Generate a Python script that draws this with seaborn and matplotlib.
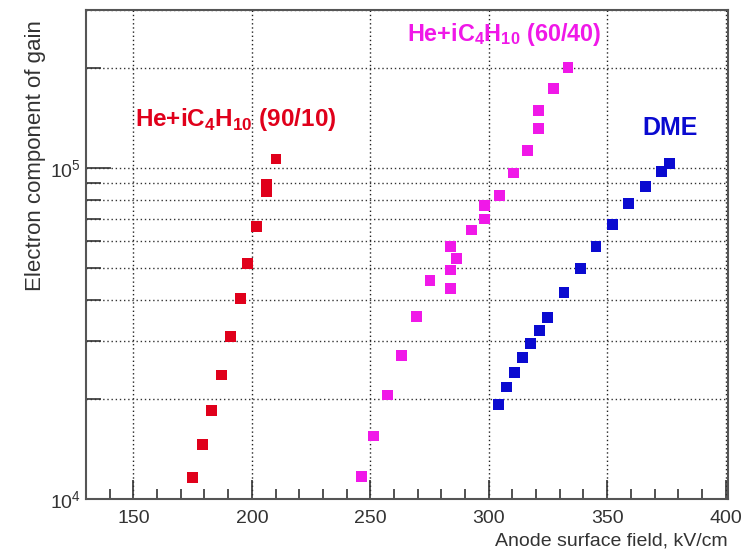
import numpy as np
import pandas as pd
import matplotlib
matplotlib.use("Agg")
import matplotlib.pyplot as plt
import seaborn as sns
from matplotlib.ticker import LogLocator, MultipleLocator, NullFormatter

# ---- data ----
red_x = [175.0, 179.2, 183.1, 187.2, 191.1, 195.2, 198.2, 202.1, 206.2, 206.2, 210.2]
red_y = [1.163e4, 1.46e4, 1.85e4, 2.37e4, 3.09e4, 4.03e4, 5.14e4, 6.64e4, 8.48e4, 8.90e4, 1.065e5]

mag_x = [246.4, 251.3, 257.4, 263.2, 269.4, 275.2, 284.0, 284.0, 286.4, 284.0,
         292.6, 298.3, 298.3, 304.4, 310.3, 316.5, 321.1, 321.1, 327.4, 333.5]
mag_y = [1.171e4, 1.55e4, 2.06e4, 2.72e4, 3.55e4, 4.58e4, 4.32e4, 4.92e4, 5.33e4, 5.78e4,
         6.49e4, 7.01e4, 7.71e4, 8.25e4, 9.66e4, 1.13e5, 1.315e5, 1.49e5, 1.737e5, 2.006e5]

dme_x = [304.2, 307.6, 310.9, 314.2, 317.7, 321.3, 324.9, 331.8, 338.6, 345.3,
         352.3, 359.1, 366.1, 372.8, 376.2]
dme_y = [1.934e4, 2.18e4, 2.41e4, 2.67e4, 2.95e4, 3.23e4, 3.54e4, 4.21e4, 4.96e4, 5.79e4,
         6.75e4, 7.80e4, 8.78e4, 9.75e4, 1.03e5]

series_names = ["He+iC4H10 (90/10)", "He+iC4H10 (60/40)", "DME"]
series_labels = [r"He+iC$_{\mathdefault{4}}$H$_{\mathdefault{10}}$ (90/10)",
                 r"He+iC$_{\mathdefault{4}}$H$_{\mathdefault{10}}$ (60/40)",
                 "DME"]
colors = ["#e0001b", "#f018e8", "#0a0ad0"]

x_label = "Anode surface field, kV/cm"
y_label = "Electron component of gain"

df = pd.DataFrame({
    "field": red_x + mag_x + dme_x,
    "gain": red_y + mag_y + dme_y,
    "mix": [series_names[0]] * len(red_x) + [series_names[1]] * len(mag_x) + [series_names[2]] * len(dme_x),
})

sns.set_theme(style="white")
plt.rcParams["font.family"] = ["Liberation Sans", "DejaVu Sans"]

fig = plt.figure(figsize=(7.47, 5.52), dpi=100)
ax = fig.add_axes([86 / 747, 53 / 552, (728 - 86) / 747, (499 - 10) / 552])

sns.scatterplot(data=df, x="field", y="gain", hue="mix", palette=dict(zip(series_names, colors)),
                marker="s", s=60, linewidth=0, legend=False, ax=ax, zorder=3)

ax.set_yscale("log")
ax.set_xlim(130, 401)
ax.set_ylim(1e4, 3.0e5)

ax.xaxis.set_major_locator(MultipleLocator(50))
ax.xaxis.set_minor_locator(MultipleLocator(10))
ax.yaxis.set_major_locator(LogLocator(base=10))
ax.yaxis.set_minor_locator(LogLocator(base=10, subs=np.arange(2, 10)))
ax.yaxis.set_minor_formatter(NullFormatter())

ax.tick_params(axis="both", which="both", bottom=True, left=True, top=False, right=False)
ax.tick_params(axis="both", which="major", direction="in", width=1.2,
               color="#333333", labelsize=14, labelcolor="#333333")
ax.tick_params(axis="x", which="major", length=14, pad=8)
ax.tick_params(axis="y", which="major", length=18)
ax.tick_params(axis="x", which="minor", direction="in", length=7, width=1.2, color="#333333")
ax.tick_params(axis="y", which="minor", direction="in", length=11, width=1.2, color="#333333")

ax.grid(True, which="major", axis="x", linestyle=(0, (1, 2)), color="#222222", linewidth=1.0)
ax.grid(True, which="both", axis="y", linestyle=(0, (1, 2)), color="#333333", linewidth=1.0)
ax.set_axisbelow(True)

for sp in ax.spines.values():
    sp.set_color("#555555")
    sp.set_linewidth(1.5)

ax.set_xlabel(x_label, fontsize=14, color="#333333", ha="right", x=1.0, labelpad=4)
ax.set_ylabel(y_label, fontsize=16, color="#333333", ha="right", y=0.98, labelpad=3)

ax.text(150.7, 1.336e5, series_labels[0], color=colors[0], fontsize=17.5, fontweight="bold",
        va="baseline", ha="left")
ax.text(265.5, 2.415e5, series_labels[1], color=colors[1], fontsize=16.8, fontweight="bold",
        va="baseline", ha="left")
ax.text(364.8, 1.26e5, series_labels[2], color=colors[2], fontsize=18, fontweight="bold",
        va="baseline", ha="left")

fig.savefig("out.png", dpi=100)
